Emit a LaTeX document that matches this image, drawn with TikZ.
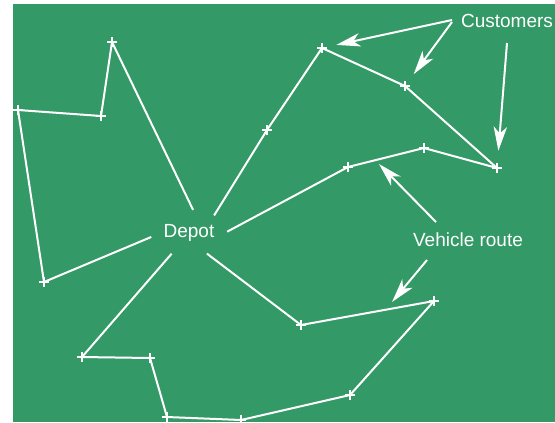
\documentclass[tikz,border=0pt]{standalone}
\usepackage{fontspec}
\setmainfont{Liberation Sans}
\usetikzlibrary{arrows.meta,shapes.geometric}
\definecolor{field}{RGB}{51,153,102}

\begin{document}
\begin{tikzpicture}[x=0.75pt,y=-0.75pt,
  route/.style={draw=white,line width=1.5pt,line join=round},
  pointer/.style={draw=white,line width=1.5pt,-{Stealth[length=18pt,width=10pt,inset=5pt]}},
  tag/.style={text=white,font=\fontsize{14.25}{17}\selectfont,inner sep=0pt}]
\useasboundingbox (0,0) rectangle (555,422);
\fill[field] (13,4) rectangle (555,422);

\node[tag,ellipse,minimum width=57pt,minimum height=34.5pt] (depot) at (189,233) {Depot};
\node[tag] (cust) at (507,21) {Customers};
\node[tag] (vroute) at (468,240) {Vehicle route};

% customers of the first route
\coordinate (a1) at (112,42);
\coordinate (a2) at (101,116);
\coordinate (a3) at (18,110);
\coordinate (a4) at (44,282);
% second route
\coordinate (b1) at (267,130);
\coordinate (b2) at (322,48);
\coordinate (b3) at (405,86);
\coordinate (b4) at (497,168);
\coordinate (b5) at (424,148);
\coordinate (b6) at (348,167);
% third route
\coordinate (c1) at (301,325);
\coordinate (c2) at (434,301);
\coordinate (c3) at (350,395);
\coordinate (c4) at (241,420);
\coordinate (c5) at (167,417);
\coordinate (c6) at (150,358);
\coordinate (c7) at (82,357);

\draw[route] (depot.80) -- (a1) -- (a2) -- (a3) -- (a4) -- (depot.186);
\draw[route] (depot.35) -- (b1) -- (b2) -- (b3) -- (b4) -- (b5) -- (b6) -- (depot.2);
\draw[route] (depot.311) -- (c1) -- (c2) -- (c3) -- (c4) -- (c5) -- (c6) -- (c7) -- (depot.230);

\foreach \c in {a1,a2,a3,a4,b1,b2,b3,b4,b5,b6,c1,c2,c3,c4,c5,c6,c7}
  \draw[white,line width=1.5pt] (\c) +(-5,0) -- +(5,0) (\c) +(0,-5) -- +(0,5);

% pointers from the labels
\coordinate (p1) at (379,164);
\coordinate (p2) at (392,302);
\draw[pointer,shorten >=11pt] ([shift={(-55,-1)}]cust.center) -- (b2);
\draw[pointer,shorten >=11pt] ([shift={(-55,1)}]cust.center) -- (b3);
\draw[pointer,shorten >=13pt] ([shift={(0,22)}]cust.center) -- (b4);
\draw[pointer] ([shift={(-32,-18)}]vroute.center) -- (p1);
\draw[pointer] ([shift={(-41,20)}]vroute.center) -- (p2);
\end{tikzpicture}
\end{document}
